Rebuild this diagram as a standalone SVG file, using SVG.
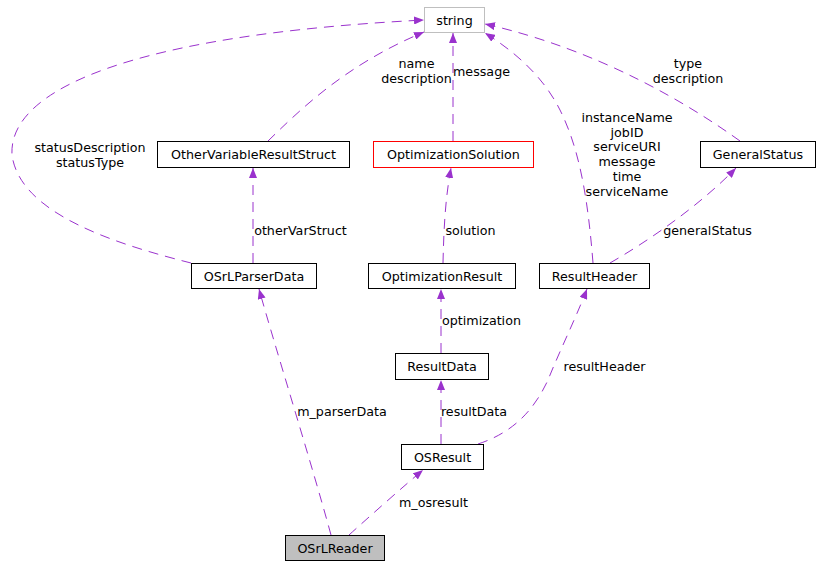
<svg xmlns="http://www.w3.org/2000/svg" width="819" height="565" viewBox="0 0 819 565">
<style>
.n{fill:#fff;stroke:#000;stroke-width:1}
text{font-family:"DejaVu Sans","Liberation Sans",sans-serif;font-size:12.7px;fill:#000}
.c{text-anchor:middle}
.e{fill:none;stroke:#9a32cd;stroke-width:1;stroke-dasharray:10,7}
</style>
<defs>
<marker id="ah" viewBox="0 0 10 8" refX="10" refY="4" markerWidth="10" markerHeight="8" markerUnits="userSpaceOnUse" orient="auto">
<path d="M0,0 L10,4 L0,8 z" fill="#9a32cd"/>
</marker>
</defs>
<rect width="819" height="565" fill="#fff"/>
<g id="edges">
<path class="e" marker-end="url(#ah)" d="M331,535 C312,465 276,350 259,289"/>
<path class="e" marker-end="url(#ah)" d="M349,535 C370,516 405,485 423,470"/>
<path class="e" marker-end="url(#ah)" d="M441,444 L441,380"/>
<path class="e" marker-end="url(#ah)" d="M478,444 C515,432 535,408 548,380 C560,350 575,320 587,289"/>
<path class="e" marker-end="url(#ah)" d="M441,353 L441,289"/>
<path class="e" marker-end="url(#ah)" d="M443,263 C444,220 446,195 451,168"/>
<path class="e" marker-end="url(#ah)" d="M610,263 C650,240 700,205 736,168"/>
<path class="e" marker-end="url(#ah)" d="M253,263 L253,168"/>
<path class="e" marker-end="url(#ah)" d="M191,263 C120,245 20,215 12,155 C8,90 130,35 424,20"/>
<path class="e" marker-end="url(#ah)" d="M268,141 C300,110 345,65 424,32"/>
<path class="e" marker-end="url(#ah)" d="M453,141 L453,33"/>
<path class="e" marker-end="url(#ah)" d="M593,263 C588,200 580,150 560,110 C545,80 520,55 485,33"/>
<path class="e" marker-end="url(#ah)" d="M740,141 C690,105 600,50 485,24"/>
</g>
<g id="edge-labels">
<text class="c" x="342" y="416">m_parserData</text>
<text class="c" x="433.5" y="507">m_osresult</text>
<text class="c" x="474" y="416">resultData</text>
<text class="c" x="604.5" y="371">resultHeader</text>
<text class="c" x="481.5" y="325">optimization</text>
<text class="c" x="470.5" y="235">solution</text>
<text class="c" x="707.5" y="235">generalStatus</text>
<text class="c" x="300.5" y="235">otherVarStruct</text>
<text class="c" x="90" y="152">statusDescription</text>
<text class="c" x="90" y="166.7">statusType</text>
<text class="c" x="416.5" y="68">name</text>
<text class="c" x="416.5" y="82.5">description</text>
<text class="c" x="481.5" y="75.5">message</text>
<text class="c" x="688" y="68">type</text>
<text class="c" x="688" y="82.5">description</text>
<text class="c" x="627" y="122">instanceName</text>
<text class="c" x="627" y="136.7">jobID</text>
<text class="c" x="627" y="151.4">serviceURI</text>
<text class="c" x="627" y="166.1">message</text>
<text class="c" x="627" y="180.8">time</text>
<text class="c" x="627" y="195.5">serviceName</text>
</g>
<g id="string"><rect class="n" x="424.5" y="7.5" width="60" height="25" style="stroke:#bfbfbf"/><text class="c" x="454.5" y="24.5">string</text></g>
<g id="OtherVariableResultStruct"><rect class="n" x="157.5" y="141.5" width="192" height="26"/><text class="c" x="253.5" y="159">OtherVariableResultStruct</text></g>
<g id="OptimizationSolution"><rect class="n" x="373.5" y="141.5" width="160" height="26" style="stroke:#ff0000"/><text class="c" x="453.5" y="159">OptimizationSolution</text></g>
<g id="GeneralStatus"><rect class="n" x="700.5" y="141.5" width="115" height="26"/><text class="c" x="758" y="159">GeneralStatus</text></g>
<g id="OSrLParserData"><rect class="n" x="191.5" y="263.5" width="125" height="25"/><text class="c" x="254" y="280.5">OSrLParserData</text></g>
<g id="OptimizationResult"><rect class="n" x="368.5" y="263.5" width="147" height="25"/><text class="c" x="442" y="280.5">OptimizationResult</text></g>
<g id="ResultHeader"><rect class="n" x="539.5" y="263.5" width="110" height="25"/><text class="c" x="594.5" y="280.5">ResultHeader</text></g>
<g id="ResultData"><rect class="n" x="395.5" y="353.5" width="93" height="26"/><text class="c" x="442" y="371">ResultData</text></g>
<g id="OSResult"><rect class="n" x="401.5" y="444.5" width="82" height="25"/><text class="c" x="442.5" y="461.5">OSResult</text></g>
<g id="OSrLReader"><rect class="n" x="285.5" y="535.5" width="99" height="25" style="fill:#bfbfbf"/><text class="c" x="335" y="552.5">OSrLReader</text></g>
</svg>
